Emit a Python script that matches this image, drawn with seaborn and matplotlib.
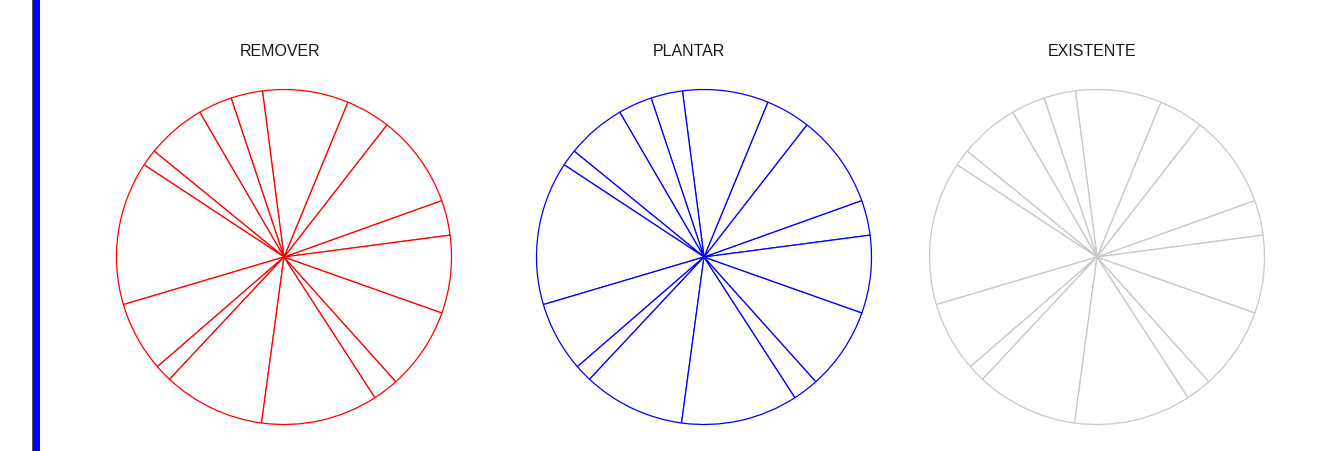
import numpy as np
import matplotlib
matplotlib.use("Agg")
import matplotlib.pyplot as plt
import seaborn as sns
from matplotlib.patches import Rectangle

# slice sizes (degrees), counter-clockwise starting from the slice at ~7.5 deg
slices = [12.2, 32.4, 15.5, 29.8, 11.0, 11.8, 20.6, 5.8, 49.9, 24.4, 6.0, 35.4, 40.6, 9.0, 28.6, 27.0]
titles = ["REMOVER", "PLANTAR", "EXISTENTE"]
colors = ["#ff0000", "#0000ff", "#c8c8c8"]
centers_px = [284, 704, 1097]      # pie centres in pixels (x)
title_px = [280, 689, 1092]        # title centres in pixels (x)

sns.set_theme(style="white")
plt.rcParams['font.family'] = ['Liberation Sans', 'DejaVu Sans']

W, H = 1335, 451
fig = plt.figure(figsize=(W / 100, H / 100), dpi=100)
fig.patch.set_facecolor("white")

r = 167.5
cy = 257
for name, col, cx, tx in zip(titles, colors, centers_px, title_px):
    ax = fig.add_axes([(cx - r) / W, (H - cy - r) / H, 2 * r / W, 2 * r / H])
    ax.pie(slices, startangle=7.5, counterclock=True,
           wedgeprops=dict(facecolor="white", edgecolor=col, linewidth=0.9))
    ax.set_xlim(-1, 1)
    ax.set_ylim(-1, 1)
    ax.set_aspect("equal")
    ax.axis("off")
    fig.text(tx / W, 1 - 51 / H, name, ha="center", va="center",
             fontsize=11.5, color="#1a1a1a")

# blue band on the left edge
fig.patches.append(Rectangle((32 / W, 0), 8 / W, 1, transform=fig.transFigure,
                             facecolor="#0000ff", edgecolor="none"))
fig.patches.append(Rectangle((31.5 / W, 0), 1 / W, 1, transform=fig.transFigure,
                             facecolor="#555555", edgecolor="none"))

fig.savefig("out.png", dpi=100)
